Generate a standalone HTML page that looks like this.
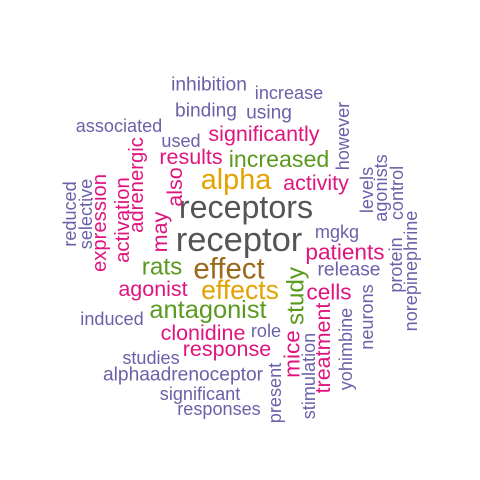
<!DOCTYPE html>
<html><head><meta charset="utf-8"><style>
html,body{margin:0;padding:0;background:#fff}
svg{display:block}
text{font-family:"Liberation Sans",sans-serif;text-anchor:middle;dominant-baseline:central}
</style></head><body>
<svg width="480" height="480">
<g id="words"></g>
</svg>
<script>
const words=["inhibition","increase","binding","using","associated","significantly","used","results","increased","alpha","activity","receptors","receptor","mgkg","patients","release","rats","effect","agonist","effects","cells","antagonist","induced","clonidine","role","response","studies","alphaadrenoceptor","significant","responses","reduced","selective","expression","activation","adrenergic","also","may","however","levels","agonists","control","protein","norepinephrine","study","mice","treatment","stimulation","yohimbine","neurons","present"];
const sizes=[17,16,17,17,16,19,16,19,20.5,25.5,19,28.5,30.5,16,20,17,21.5,26,19,23.5,20,22.5,16,19,16,19,16,17,16,16,16,16,18,18,18,19,19,16,16,16,16,16,16,21.5,20,19,16,16,16,16];
const colors=["p","p","p","p","p","k","p","k","g","y","k","d","d","p","k","p","g","b","k","y","k","g","p","k","p","k","p","p","p","p","p","p","k","k","k","k","k","p","p","p","p","p","p","g","k","k","p","p","p","p"];
const cx=[209,289,206,269,119,264,181,191,279,236,316,246,239,337,345,349,162,229,153,240,329,208,112,203,266,227,151,183,200,219,70,86,100,123,137,175,160,343,367,381,397,396,411,296,292,323,309,346,367,275];
const cy=[85,93,111,113,126,134,141,157,159,180,183,207,240,232,252,270,267,269,289,290,292,310,319,333,331,349,358,375,394,409,214,214,223,220,185,187,232,136,190,188,193,265,271,296,354,348,376,349,317,393];
const rot=[0,0,0,0,0,0,0,0,0,0,0,0,0,0,0,0,0,0,0,0,0,0,0,0,0,0,0,0,0,0,1,1,1,1,1,1,1,1,1,1,1,1,1,1,1,1,1,1,1,1];
const pal={p:"#6a62a8",k:"#e0147f",g:"#5a9a1e",y:"#e3a200",b:"#9a6a1a",d:"#555555"};
const g=document.getElementById('words');
words.forEach((w,i)=>{
 const t=document.createElementNS('http://www.w3.org/2000/svg','text');
 
 
 t.setAttribute('x',cx[i]);t.setAttribute('y',cy[i]);
 t.setAttribute('font-size',(sizes[i]*1.13).toFixed(1));
 t.setAttribute('fill',pal[colors[i]]);
 if(rot[i])t.setAttribute('transform','rotate(-90 '+cx[i]+' '+cy[i]+')');
 t.textContent=w;g.appendChild(t);
});
</script>
</body></html>
